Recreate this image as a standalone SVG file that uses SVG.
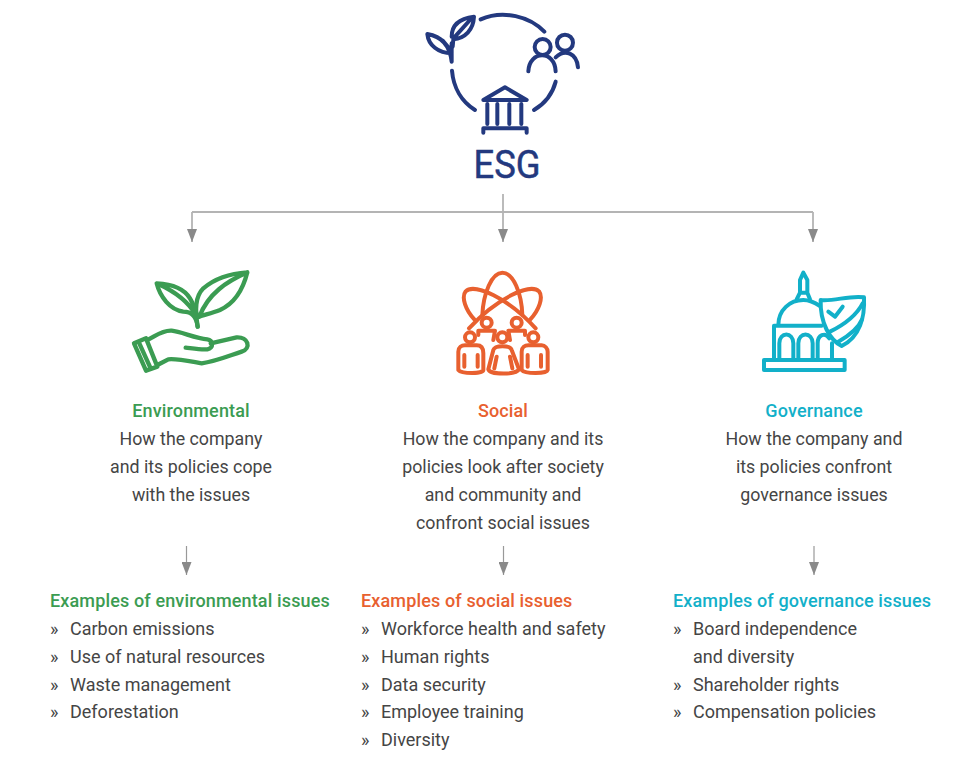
<svg xmlns="http://www.w3.org/2000/svg" width="980" height="769" viewBox="0 0 980 769">
<style>
text{font-family:Roboto,"Liberation Sans",sans-serif;font-size:18px;fill:#454545}
.c{text-anchor:middle;font-size:17.800px}
.h{font-weight:500;font-size:18px;letter-spacing:.14px}
.g{fill:#3b9c52}.o{fill:#e8602f}.t{fill:#12b0c9}
.i{fill:none;stroke-linecap:round;stroke-linejoin:round}
.nv{stroke:#23397f;stroke-width:12}
.gr{stroke:#3b9c52;stroke-width:13}
.or{stroke:#e8602f;stroke-width:12}
.te{stroke:#12b0c9;stroke-width:12}
.ln{fill:none;stroke:#b4b4b4;stroke-width:1.800}
.ln2{fill:none;stroke:#999;stroke-width:1.200}
</style>
<defs>
<marker id="d" markerUnits="userSpaceOnUse" markerWidth="13" markerHeight="10" refX="13" refY="5" orient="auto" viewBox="0 0 13 10"><path d="M0 0L13 5L0 10Z" fill="#8a8a8a"/></marker></defs>
<g id="connectors">
<path class="ln" d="M192 212H813"/>
<path class="ln" d="M192 212V242" marker-end="url(#d)"/>
<path class="ln" d="M503 194V242" marker-end="url(#d)"/>
<path class="ln" d="M813 212V242" marker-end="url(#d)"/>
<path class="ln2" d="M186.500 546V575" marker-end="url(#d)"/>
<path class="ln2" d="M503.500 546V575" marker-end="url(#d)"/>
<path class="ln2" d="M814 546V575" marker-end="url(#d)"/>
</g>
<g id="esg">
<g transform="translate(410 0) scale(.3333)" class="i nv">
<path d="M212 58C280 28 360 50 403 95"/><path d="M126 212C130 262 155 305 195 330"/><path d="M372 330C405 310 428 280 437 245"/>
<path d="M125 185C120 140 100 110 52 102C55 135 85 160 125 160M125 185L125 130M98 122L122 150"/>
<path d="M125 110C125 75 150 55 192 50C190 90 165 115 130 118L128 140M180 60L135 110"/>
<circle cx="398" cy="141" r="24"/><path d="M355 214C358 150 435 150 437 214"/>
<circle cx="465" cy="128" r="24"/><path d="M437 172C465 145 500 160 504 202"/>
<path d="M220 300L285 262L350 300Z"/><path d="M232 312V372M262 312V372M298 312V372M334 312V372M220 385H350M220 385V398M350 385V398"/>
</g>
<text x="507" y="178" textLength="67" lengthAdjust="spacingAndGlyphs" style="font-size:38.500px;fill:#23397f;stroke:#23397f;stroke-width:.5px;text-anchor:middle">ESG</text>
</g>
<g id="environmental">
<g transform="translate(120 260) scale(.3333)" class="i gr">
<path d="M233 200C225 150 225 110 250 85C285 55 335 40 382 37C370 85 345 130 300 150C275 160 250 165 238 170M382 37C320 65 265 100 238 170"/>
<path d="M233 200C230 175 218 155 190 155C150 150 120 110 110 70C150 72 190 82 210 115C222 135 228 155 232 170M115 72C165 95 205 125 228 165"/>
<path d="M82 240C105 230 125 210 155 212C185 215 225 235 262 238C280 240 282 265 262 268C245 270 215 265 197 263"/>
<path d="M272 250L350 232C385 230 395 265 365 275C320 290 285 305 245 310C215 305 170 295 145 298L112 315"/>
<path d="M42 250L78 235L112 320L78 332Z"/><path d="M58 250L92 325"/>
</g>
<text x="191" y="416.500" class="c h g">Environmental</text>
<text x="191" y="445" class="c">How the company</text>
<text x="191" y="473" class="c">and its policies cope</text>
<text x="191" y="501" class="c">with the issues</text>
</g>
<g id="social">
<g transform="translate(445 260) scale(.3333)" class="i or">
<path d="M112 165C115 100 140 38 172 38C205 38 230 100 232 165"/>
<path d="M88 178C62 150 48 112 62 94C88 68 190 115 272 205"/>
<path d="M256 178C282 150 296 112 282 94C256 68 155 115 72 205"/>
<circle cx="125" cy="188" r="15"/><circle cx="215" cy="188" r="15"/>
<circle cx="75" cy="232" r="15"/><circle cx="172" cy="232" r="15"/><circle cx="265" cy="232" r="15"/>
<path d="M100 225V212H150L145 240M240 225V212H190L195 240"/>
<path d="M40 330V275C40 262 50 256 60 256H95C110 256 115 265 115 280V330C115 342 50 342 40 330Z"/>
<path d="M230 330V275C230 262 240 256 250 256H290C300 256 308 265 308 275V330C305 342 240 342 230 330Z"/>
<path d="M130 328L145 270C150 255 195 255 200 270L222 328C215 345 135 345 130 328Z"/>
<path d="M58 285V320M98 285V320M155 290L148 325M195 290L202 325M248 285V320M288 285V320"/>
</g>
<text x="503" y="416.500" class="c h o">Social</text>
<text x="503" y="445" class="c">How the company and its</text>
<text x="503" y="473" class="c">policies look after society</text>
<text x="503" y="501" class="c">and community and</text>
<text x="503" y="529" class="c">confront social issues</text>
</g>
<g id="governance">
<g transform="translate(750 260) scale(.3333)" class="i te">
<path d="M42 300H284V330H42Z"/>
<path d="M72 300V197H215M246 250V300"/>
<path d="M85 195C85 150 120 120 160 120C180 120 195 128 210 138"/>
<path d="M140 118L150 98H172L180 118M150 98V60L160 38L172 60V98"/>
<path d="M88 300V250C88 215 130 215 130 250V300M145 300V250C145 215 188 215 188 250V300M203 300V250C203 225 225 215 238 235"/>
<path d="M212 120C250 125 300 105 342 112C345 170 330 230 275 258C240 240 210 190 212 120Z"/>
<path d="M235 155L255 170L278 140M240 215C280 195 320 165 338 130M265 245C300 225 325 205 335 180"/>
</g>
<text x="814" y="416.500" class="c h t">Governance</text>
<text x="814" y="445" class="c">How the company and</text>
<text x="814" y="473" class="c">its policies confront</text>
<text x="814" y="501" class="c">governance issues</text>
</g>
<g id="list-environmental">
<text x="50" y="606.500" class="h g">Examples of environmental issues</text>
<text x="50" y="634.500">»</text><text x="70" y="634.500">Carbon emissions</text>
<text x="50" y="662.500">»</text><text x="70" y="662.500">Use of natural resources</text>
<text x="50" y="690.500">»</text><text x="70" y="690.500">Waste management</text>
<text x="50" y="717.500">»</text><text x="70" y="717.500">Deforestation</text>
</g>
<g id="list-social">
<text x="361" y="606.500" class="h o">Examples of social issues</text>
<text x="361" y="634.500">»</text><text x="381" y="634.500">Workforce health and safety</text>
<text x="361" y="662.500">»</text><text x="381" y="662.500">Human rights</text>
<text x="361" y="690.500">»</text><text x="381" y="690.500">Data security</text>
<text x="361" y="717.500">»</text><text x="381" y="717.500">Employee training</text>
<text x="361" y="745.500">»</text><text x="381" y="745.500">Diversity</text>
</g>
<g id="list-governance">
<text x="673" y="606.500" class="h t">Examples of governance issues</text>
<text x="673" y="634.500">»</text><text x="693" y="634.500">Board independence</text>
<text x="693" y="662.500">and diversity</text>
<text x="673" y="690.500">»</text><text x="693" y="690.500">Shareholder rights</text>
<text x="673" y="717.500">»</text><text x="693" y="717.500">Compensation policies</text>
</g>
</svg>
